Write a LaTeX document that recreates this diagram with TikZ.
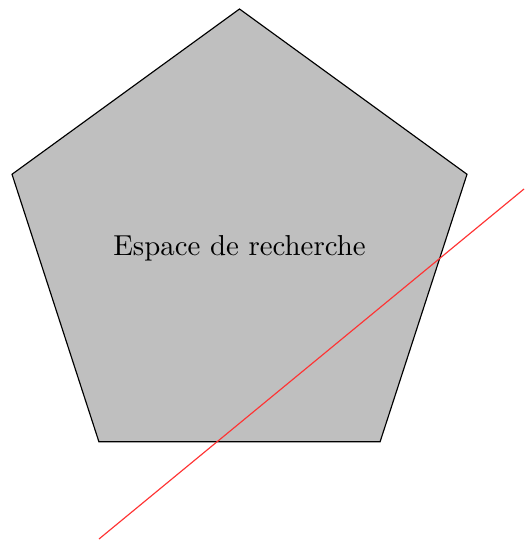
\documentclass[tikz,border=0pt]{standalone}
\usetikzlibrary{shapes.geometric}
\begin{document}
\begin{tikzpicture}[x=0.3466pt,y=-0.3466pt,
  space/.style={regular polygon,regular polygon sides=5,draw=black,fill=lightgray,
    minimum size=478.4*0.3466pt,inner sep=0pt,line width=0.4pt},
  cut/.style={draw=red!80,line width=0.4pt}]
\useasboundingbox (0,0) rectangle (524,541);
\node[space] (p) at (239.5,248.2) {Espace de recherche};
\coordinate (a) at (99,539);
\coordinate (b) at (524,189);
\draw[cut] (a) -- (b);
\end{tikzpicture}
\end{document}
